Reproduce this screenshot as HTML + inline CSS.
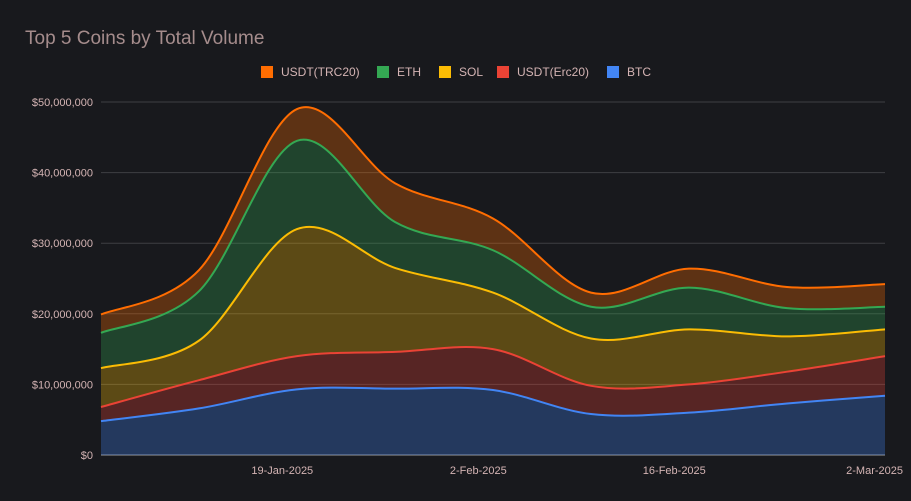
<!DOCTYPE html>
<html><head><meta charset="utf-8"><style>
html,body{margin:0;padding:0;background:#18191d;}
svg{display:block;font-family:"Liberation Sans",Arial,sans-serif;}
</style></head><body>
<svg id="chart" width="911" height="501" viewBox="0 0 911 501">
<rect width="911" height="501" fill="#18191d"/>
<text x="25" y="44" font-size="19" fill="#a58c8c">Top 5 Coins by Total Volume</text>
<g id="grid"></g>
<g id="areas"></g>
<g id="yticks"></g>
<g id="xticks"></g>
<g id="legend"></g>
</svg>
<script>
const xLabels = ["19-Jan-2025","2-Feb-2025","16-Feb-2025","2-Mar-2025"];
const xLabelIdx = [1.85, 3.85, 5.85, 7.85];
const yTicks = [0,10,20,30,40,50];
const btc = [4.8, 6.6, 9.3, 9.4, 9.2, 5.8, 6.0, 7.3, 8.4];
const erc20 = [2.0, 4.0, 4.7, 5.2, 5.8, 4.0, 4.0, 4.5, 5.6];
const sol = [5.5, 5.6, 18.0, 11.9, 8.0, 6.7, 7.8, 5.0, 3.8];
const eth = [5.0, 7.0, 12.5, 6.5, 6.0, 4.5, 5.9, 4.0, 3.2];
const trc20 = [2.6, 3.0, 4.5, 5.5, 4.5, 2.0, 2.7, 3.0, 3.2];
const seriesNames = ["BTC","USDT(Erc20)","SOL","ETH","USDT(TRC20)"];
const seriesColors = ["#4285f4","#ea4335","#fbbc04","#34a853","#ff6d01"];
const seriesVals = [btc, erc20, sol, eth, trc20];

const NS="http://www.w3.org/2000/svg";
const x0=101,x1=885,y0=455,y1=102,maxV=50;
const n=btc.length;
const X=i=>x0+(x1-x0)*i/(n-1);
const Y=v=>y0-(y0-y1)*v/maxV;
function mk(tag,attrs,parent){const e=document.createElementNS(NS,tag);for(const k in attrs)e.setAttribute(k,attrs[k]);parent.appendChild(e);return e;}

const grid=document.getElementById('grid'), yt=document.getElementById('yticks');
yTicks.forEach(t=>{
  const l=mk('line',{x1:x0,x2:x1,y1:Y(t),y2:Y(t),stroke:t===0?'#9a9a9a':'#3e3f43','stroke-width':1},grid);
  
  
  const tx=mk('text',{x:93,y:Y(t)+4,'text-anchor':'end','font-size':11,fill:'#d4b4b4'},yt);
  tx.textContent='$'+(t*1000000).toLocaleString('en-US');
  
  
});
const xt=document.getElementById('xticks');
xLabels.forEach((s,k)=>{
  let px=X(xLabelIdx[k]); let anchor='middle';
  if(k===xLabels.length-1){px=903;anchor='end';}
  const tx=mk('text',{x:px,y:474,'text-anchor':anchor,'font-size':11,fill:'#d4b4b4'},xt);
  tx.textContent=s;
  
  
});

// cumulative
const cum=[]; let prev=new Array(n).fill(0);
seriesVals.forEach(v=>{const c=v.map((d,i)=>d+prev[i]);cum.push(c);prev=c;});
function seg(pts){let d='';for(let i=0;i<pts.length-1;i++){const p0=pts[Math.max(0,i-1)],p1=pts[i],p2=pts[i+1],p3=pts[Math.min(pts.length-1,i+2)];
 const c1=[p1[0]+(p2[0]-p0[0])/6,p1[1]+(p2[1]-p0[1])/6],c2=[p2[0]-(p3[0]-p1[0])/6,p2[1]-(p3[1]-p1[1])/6];
 d+=` C${c1[0]},${c1[1]} ${c2[0]},${c2[1]} ${p2[0]},${p2[1]}`;}return d;}
const areas=document.getElementById('areas');
cum.forEach((c,s)=>{
  const top=c.map((v,i)=>[X(i),Y(v)]);
  const bot=(s===0?new Array(n).fill(0):cum[s-1]).map((v,i)=>[X(i),Y(v)]).reverse();
  const d=`M${top[0][0]},${top[0][1]}`+seg(top)+` L${bot[0][0]},${bot[0][1]}`+seg(bot)+'Z';
  const a=mk('path',{d:d,fill:seriesColors[s],'fill-opacity':0.3},areas);
  
  
});
cum.forEach((c,s)=>{
  const top=c.map((v,i)=>[X(i),Y(v)]);
  const l=mk('path',{d:`M${top[0][0]},${top[0][1]}`+seg(top),fill:'none',stroke:seriesColors[s],'stroke-width':2},areas);
  
  
});
// legend
const lg=document.getElementById('legend');
const legOrder=[4,3,2,1,0], legX=[261,377,439,497,607];
legOrder.forEach((s,k)=>{
  const g=mk('g',{},lg);
  
  
  mk('rect',{x:legX[k],y:66,width:12,height:12,fill:seriesColors[s]},g);
  const t=mk('text',{x:legX[k]+20,y:76,'font-size':12,fill:'#d4b4b4'},g);
  t.textContent=seriesNames[s];
});
</script>
</body></html>
